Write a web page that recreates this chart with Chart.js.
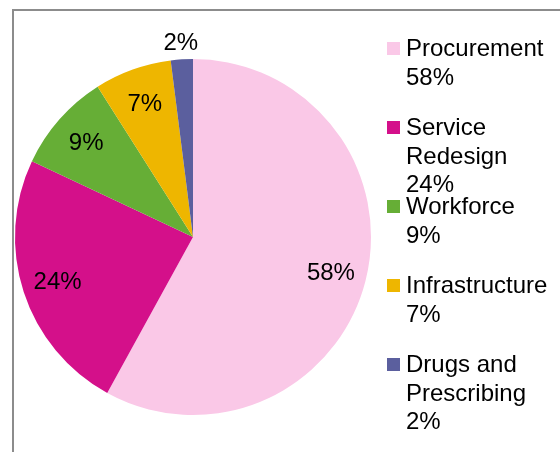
<!DOCTYPE html>
<html>
<head>
<meta charset="utf-8">
<script src="https://cdn.jsdelivr.net/npm/chart.js@4/dist/chart.umd.min.js"></script>
<style>
  html, body { margin: 0; padding: 0; background: #fff; overflow: hidden; }
  #wrap { position: relative; width: 560px; height: 452px; }
  #frame { position: absolute; left: 12px; top: 9px; width: 600px; height: 500px;
           border-left: 2px solid #8c8c8c; border-top: 2px solid #8c8c8c; }
  canvas { position: absolute; left: 0; top: 0; }
</style>
</head>
<body>
<div id="wrap">
  <div id="frame"></div>
  <canvas id="pieChart" width="560" height="452"></canvas>
</div>
<script>
// Data
const categories = ['Procurement', 'Service Redesign', 'Workforce', 'Infrastructure', 'Drugs and Prescribing'];
const legendLines = [
  ['Procurement', '58%'],
  ['Service', 'Redesign', '24%'],
  ['Workforce', '9%'],
  ['Infrastructure', '7%'],
  ['Drugs and', 'Prescribing', '2%']
];
const shares = [58, 24, 9, 7, 2];
const colors = ['#fac8e7', '#d4108a', '#66ae36', '#eeb600', '#5b5f9e'];

const FONT = '24px "Liberation Sans", Arial, sans-serif';

// Etiket persen di dalam / luar irisan
const sliceLabels = {
  id: 'sliceLabels',
  afterDatasetsDraw(chart) {
    const { ctx } = chart;
    const meta = chart.getDatasetMeta(0);
    ctx.save();
    ctx.font = FONT;
    ctx.fillStyle = '#000';
    ctx.textAlign = 'center';
    ctx.textBaseline = 'middle';
    meta.data.forEach((arc, i) => {
      const mid = (arc.startAngle + arc.endAngle) / 2;
      const small = shares[i] < 4;
      const dist = small ? arc.outerRadius + 17 : arc.outerRadius * 0.8;
      const x = arc.x + Math.cos(mid) * dist;
      const y = arc.y + Math.sin(mid) * dist + 1;
      ctx.fillText(shares[i] + '%', x, y);
    });
    ctx.restore();
  }
};

// Legenda manual di kanan
const sideLegend = {
  id: 'sideLegend',
  afterDraw(chart) {
    const { ctx } = chart;
    const left = chart.chartArea.right + 16;
    ctx.save();
    ctx.font = FONT;
    ctx.textAlign = 'left';
    ctx.textBaseline = 'alphabetic';
    legendLines.forEach((lines, i) => {
      const base = 56 + i * 79;
      ctx.fillStyle = colors[i];
      ctx.fillRect(left, base - 14, 13, 13);
      ctx.fillStyle = '#000';
      lines.forEach((line, j) => {
        ctx.fillText(line, left + 19, base + j * 28.5);
      });
    });
    ctx.restore();
  }
};

const ctx = document.getElementById('pieChart').getContext('2d');
new Chart(ctx, {
  type: 'pie',
  data: {
    labels: categories,
    datasets: [{
      data: shares,
      backgroundColor: colors,
      borderWidth: 0
    }]
  },
  options: {
    responsive: false,
    animation: false,
    layout: { padding: { left: 15, right: 189, top: 59, bottom: 37 } },
    plugins: {
      legend: { display: false },
      tooltip: { enabled: false }
    }
  },
  plugins: [sliceLabels, sideLegend]
});
</script>
</body>
</html>
